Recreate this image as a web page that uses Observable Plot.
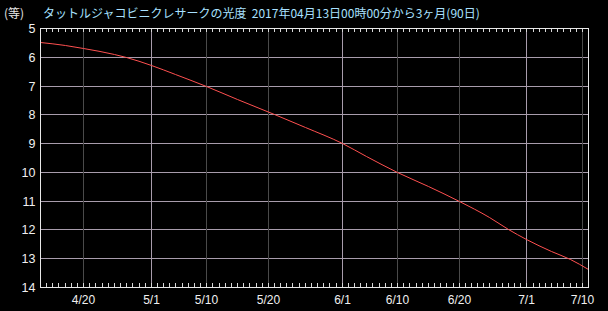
<!DOCTYPE html>
<html>
<head>
<meta charset="utf-8">
<script src="https://cdn.jsdelivr.net/npm/d3@7"></script>
<script src="https://cdn.jsdelivr.net/npm/@observablehq/plot@0.6"></script>
<style>
  html, body { margin: 0; padding: 0; background: #000; }
  #wrap { position: relative; width: 608px; height: 311px; background: #000; overflow: hidden; }
  #unit { position: absolute; left: 4px; top: 5px; color: #e8e8e8; font: 12px "Noto Sans CJK JP", sans-serif; line-height: 16px; }
  #title { position: absolute; left: 43px; top: 5px; color: #a8e0ff; font: 12px "Noto Sans CJK JP", sans-serif; line-height: 16px; white-space: pre; }
  #chart { position: absolute; left: 0; top: 0; }
</style>
</head>
<body>
<div id="wrap">
  <div id="chart"></div>
  <div id="unit">(等)</div>
  <div id="title">タットルジャコビニクレサークの光度  2017年04月13日00時00分から3ヶ月(90日)</div>
</div>
<script>
// Data (magnitude by date)
const dates = ["2017-04-13","2017-04-17","2017-04-20","2017-04-25","2017-04-27","2017-05-01","2017-05-05","2017-05-10","2017-05-15","2017-05-21","2017-05-26","2017-06-01","2017-06-05","2017-06-10","2017-06-15","2017-06-20","2017-06-25","2017-06-28","2017-07-01","2017-07-05","2017-07-08","2017-07-11"];
const magnitudes = [5.49,5.58,5.69,5.90,6.00,6.28,6.60,7.00,7.45,8.00,8.45,9.00,9.45,10.00,10.50,11.00,11.56,11.97,12.32,12.74,13.03,13.37];

const xDomain = ["2017-04-13", "2017-07-11"];
const yTicks = [5,6,7,8,9,10,11,12,13,14];
const xTickLabels = ["4/20","5/1","5/10","5/20","6/1","6/10","6/20","7/1","7/10"];
const xTickDates = ["2017-04-20","2017-05-01","2017-05-10","2017-05-20","2017-06-01","2017-06-10","2017-06-20","2017-07-01","2017-07-10"];
const monthStarts = ["2017-05-01","2017-06-01","2017-07-01"];

const parse = d3.utcParse("%Y-%m-%d");
const series = dates.map((d, i) => ({date: parse(d), mag: magnitudes[i]}));
const majorDates = xTickDates.map(parse);
const monthDates = monthStarts.map(parse);
const otherDates = majorDates.filter(d => !monthDates.some(m => +m === +d));
const labelOf = new Map(xTickDates.map((d, i) => [+parse(d), xTickLabels[i]]));
const dom = xDomain.map(parse);
const days = d3.utcDay.range(dom[0], d3.utcDay.offset(dom[1], 1));

const W = 608, H = 311, mL = 40, mR = 20, mT = 28, mB = 24;
const innerH = H - mT - mB;
const yMin = yTicks[0], yMax = yTicks[yTicks.length - 1];
const tickLen = 4 * (yMax - yMin) / innerH; // 4px expressed in magnitude units

const chart = Plot.plot({
  width: W,
  height: H,
  marginLeft: mL,
  marginRight: mR,
  marginTop: mT,
  marginBottom: mB,
  style: {background: "#000", color: "#f0f0f0", fontSize: "12px", fontFamily: "'Liberation Sans', Arial, sans-serif", overflow: "visible"},
  x: {type: "utc", domain: dom, round: true},
  y: {domain: [yMin, yMax], reverse: true, label: null, round: true},
  marks: [
    Plot.ruleY(yTicks.slice(1, -1), {stroke: "#a89cac", strokeWidth: 1}),
    Plot.ruleX(otherDates, {stroke: "#4a4a4a", strokeWidth: 1}),
    Plot.ruleX(monthDates, {stroke: "#a89cac", strokeWidth: 1}),
    Plot.ruleX(days, {x: d => d, y1: yMin, y2: yMin + tickLen, stroke: "#d8d8d8"}),
    Plot.ruleX(days, {x: d => d, y1: yMax, y2: yMax - tickLen, stroke: "#d8d8d8"}),
    Plot.line(series, {x: "date", y: "mag", stroke: "#ff5050", strokeWidth: 1, curve: "monotone-x"}),
    Plot.frame({stroke: "#e8e8e8"}),
    Plot.axisY(yTicks, {tickSize: 0, tickPadding: 5, fill: "#f0f0f0", fontSize: 12.5, label: null}),
    Plot.axisX(majorDates, {tickSize: 0, tickPadding: 8, tickFormat: d => labelOf.get(+d), fill: "#f0f0f0", fontSize: 12, label: null})
  ]
});
document.getElementById("chart").appendChild(chart);
</script>
</body>
</html>
